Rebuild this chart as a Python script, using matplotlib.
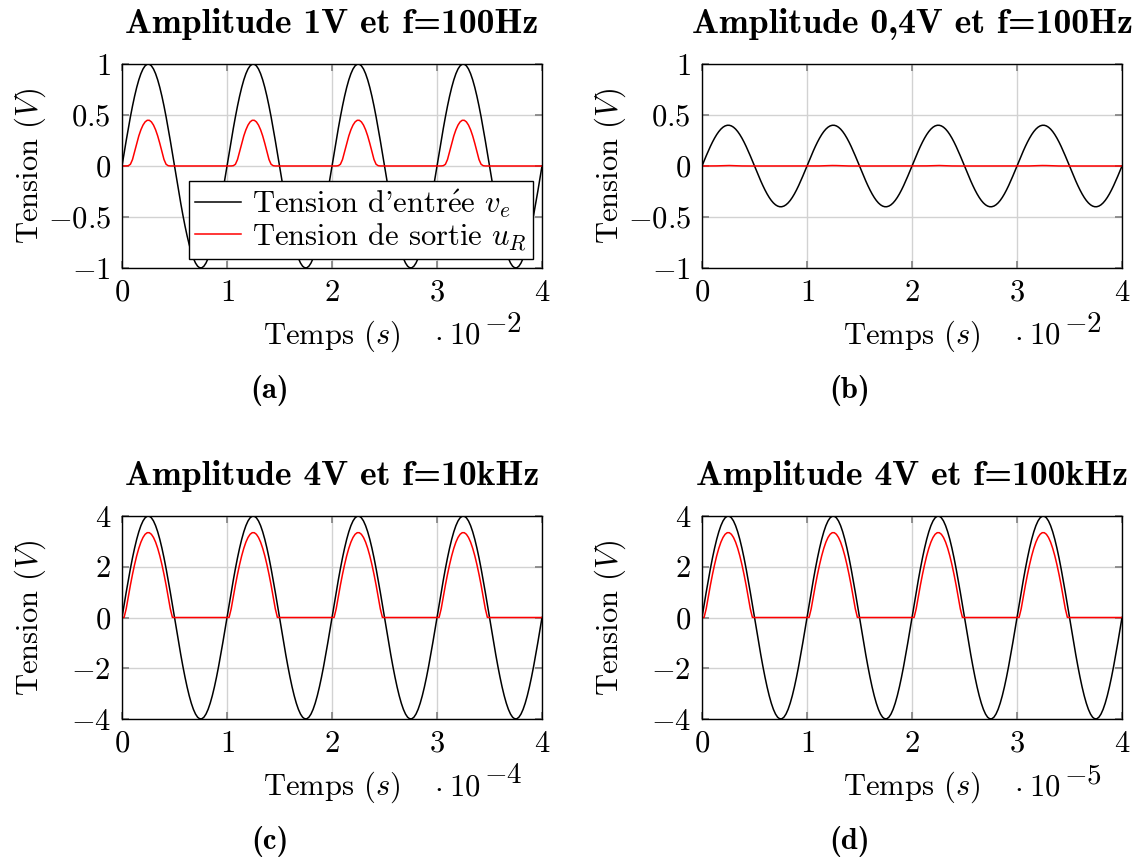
import numpy as np, matplotlib; matplotlib.use("Agg")
import matplotlib.pyplot as plt

plt.rcParams["mathtext.fontset"] = "cm"
plt.rcParams["font.family"] = ["cmr10", "DejaVu Serif"]
plt.rcParams["axes.unicode_minus"] = False

# values
titles = ["Amplitude 1V et f=100Hz", "Amplitude 0,4V et f=100Hz",
          "Amplitude 4V et f=10kHz", "Amplitude 4V et f=100kHz"]
captions = ["(a)", "(b)", "(c)", "(d)"]
amplitude = [1.0, 0.4, 4.0, 4.0]          # V
frequency = [100.0, 100.0, 1e4, 1e5]      # Hz
diode_threshold = [0.55, 0.55, 0.65, 0.65]  # V, output peak = A - threshold
knee = [0.06, 0.06, 0.06, 0.06]           # softness of the diode knee (V)
exponent = [-2, -2, -4, -5]
n_periods = 4
yticks = [[-1, -0.5, 0, 0.5, 1], [-1, -0.5, 0, 0.5, 1], [-4, -2, 0, 2, 4], [-4, -2, 0, 2, 4]]
ytick_labels = [["$-1$", "$-0.5$", "$0$", "$0.5$", "$1$"], ["$-1$", "$-0.5$", "$0$", "$0.5$", "$1$"],
                ["$-4$", "$-2$", "$0$", "$2$", "$4$"], ["$-4$", "$-2$", "$0$", "$2$", "$4$"]]
xticks = [0, 1, 2, 3, 4]
legend_labels = [r"Tension d'entr$\mathrm{\acute{e}}$e $v_e$", "Tension de sortie $u_R$"]

W, H = 1139, 859
fig = plt.figure(figsize=(W / 100, H / 100), dpi=100)
boxes = [(122, 64, 542, 268), (702, 64, 1122, 268), (122, 516, 542, 719), (702, 516, 1122, 719)]
fs = 22

for i, (x0, y0, x1, y1) in enumerate(boxes):
    ax = fig.add_axes([x0 / W, 1 - y1 / H, (x1 - x0) / W, (y1 - y0) / H])
    T = 1 / frequency[i]
    t = np.linspace(0, n_periods * T, 50 * n_periods + 1)
    ve = amplitude[i] * np.sin(2 * np.pi * frequency[i] * t)
    s = knee[i]
    ur = s * np.logaddexp(0, (ve - diode_threshold[i]) / s)
    ts = t / 10.0 ** exponent[i]
    ax.plot(ts, ve, color="black", lw=1.1, label=legend_labels[0])
    ax.plot(ts, ur, color="red", lw=1.1, label=legend_labels[1])
    A = yticks[i][-1]
    ax.set_xlim(0, 4); ax.set_ylim(-A, A)
    ax.set_xticks(xticks); ax.set_xticklabels([f"${v}$" for v in xticks])
    ax.set_yticks(yticks[i]); ax.set_yticklabels(ytick_labels[i])
    ax.grid(True, color="#d2d2d2", lw=1.0)
    ax.tick_params(direction="in", length=5, width=1.2, color="#808080", top=True, right=True,
                   labelsize=fs, pad=8)
    for sp in ax.spines.values():
        sp.set_linewidth(1.0)
    h = y1 - y0; w = x1 - x0
    ax.text(0.5, 1 + 31 / h, titles[i], transform=ax.transAxes, ha="center", va="baseline",
            fontsize=25.7, family="cmb10")
    ax.text(0.5, -76 / h, "Temps ($s$)", transform=ax.transAxes, ha="center", va="baseline", fontsize=fs)
    # scale factor "·10^k" drawn in pieces to match the sizes of the reference
    ax.text((438 - 122) / w, -76 / h, r"$\cdot$", transform=ax.transAxes, ha="center",
            va="baseline", fontsize=fs)
    ax.text((480 - 122) / w, -76 / h, "$10$", transform=ax.transAxes, ha="right",
            va="baseline", fontsize=fs)
    ax.text((484 - 122) / w, -64 / h, r"${-}%d$" % abs(exponent[i]), transform=ax.transAxes,
            ha="left", va="baseline", fontsize=21)
    ax.text((30 - 122) / w, 0.5, "Tension ($V$)", transform=ax.transAxes,
            rotation=90, ha="center", va="center", fontsize=fs)
    ax.text((270 - 122) / w, -130 / h, captions[i], transform=ax.transAxes, ha="center", va="baseline",
            fontsize=fs, family="cmb10")
    if i == 0:
        leg = ax.legend(loc="lower right", fontsize=fs, fancybox=False, edgecolor="black",
                        framealpha=1, borderaxespad=0.3, handlelength=1.5, handletextpad=0.35,
                        borderpad=0.2, labelspacing=0.05)
        leg.get_frame().set_linewidth(1.0)

fig.savefig("out.png", dpi=100)
